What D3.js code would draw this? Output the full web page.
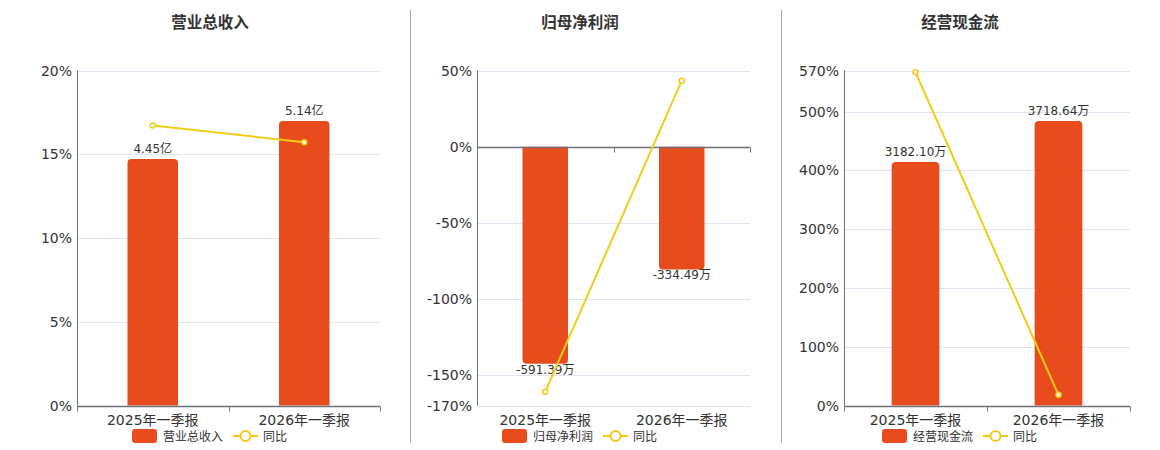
<!DOCTYPE html>
<html>
<head>
<meta charset="utf-8">
<script src="https://cdn.jsdelivr.net/npm/d3@7"></script>
<style>
  body { margin: 0; background: #fff; }
  svg { display: block; font-family: "DejaVu Sans", "Noto Sans CJK SC", sans-serif; }
</style>
</head>
<body>
<div class="content"></div>
<script>
var svgWidth = 1160;
var svgHeight = 450;

// Data.
var categories = ["2025年一季报", "2026年一季报"];

var revenueValues = [4.45, 5.14];        // 亿
var revenueYoY = [16.72, 15.72];         // %
var revenueTicks = [0, 5, 10, 15, 20];

var profitValues = [-591.39, -334.49];   // 万
var profitYoY = [-160.9, 43.3];          // %
var profitTicks = [50, 0, -50, -100, -150, -170];

var cashValues = [3182.10, 3718.64];     // 万
var cashYoY = [567, 18.2];               // %
var cashTicks = [0, 100, 200, 300, 400, 500, 570];

var barColor = "#e84c1c";
var lineColor = "#f2cc18";
var axisColor = "#6e7079";
var gridColor = "#e0e6f1";
var textColor = "#333";

// Plain hyphen for negative numbers, as in the reference.
var fmt = d3.formatLocale({ decimal: ".", thousands: ",", grouping: [3], currency: ["", ""], minus: "-" }).format(".2f");

// Layout of the three panels.
var panels = [
  { title: "营业总收入", center: 210, left: 77, right: 380, values: revenueValues, yoy: revenueYoY,
    ticks: revenueTicks, unit: "亿", barDomain: [0, 6.05] },
  { title: "归母净利润", center: 580, left: 477, right: 750, values: profitValues, yoy: profitYoY,
    ticks: profitTicks, unit: "万", barDomain: [-705, 207.4] },
  { title: "经营现金流", center: 960, left: 844, right: 1130, values: cashValues, yoy: cashYoY,
    ticks: cashTicks, unit: "万", barDomain: [0, 4380] }
];
var plotTop = 70.5;
var plotBottom = 405.5;

var svg = d3.select(".content")
  .append("svg")
  .attr("width", svgWidth)
  .attr("height", svgHeight);

// Dividers between the panels.
[410.5, 781.5].forEach(function(x) {
  svg.append("line")
    .attr("x1", x).attr("x2", x)
    .attr("y1", 10).attr("y2", 443)
    .attr("stroke", "#aaa")
    .attr("stroke-width", 1);
});

// Bar path with the two outer corners rounded.
function barPath(x, w, y0, y1, r) {
  var h = Math.abs(y1 - y0);
  r = Math.min(r, h);
  if (y1 < y0) {
    return "M" + x + "," + y0 + "V" + (y1 + r) + "Q" + x + "," + y1 + " " + (x + r) + "," + y1 +
      "H" + (x + w - r) + "Q" + (x + w) + "," + y1 + " " + (x + w) + "," + (y1 + r) + "V" + y0 + "Z";
  }
  return "M" + x + "," + y0 + "V" + (y1 - r) + "Q" + x + "," + y1 + " " + (x + r) + "," + y1 +
    "H" + (x + w - r) + "Q" + (x + w) + "," + y1 + " " + (x + w) + "," + (y1 - r) + "V" + y0 + "Z";
}

panels.forEach(function(p) {
  var g = svg.append("g");

  var x = d3.scaleBand().domain(categories).range([p.left, p.right]);
  var y = d3.scaleLinear().domain(d3.extent(p.ticks)).range([plotBottom, plotTop]);
  var yBar = d3.scaleLinear().domain(p.barDomain).range([plotBottom, plotTop]);
  var zeroY = y(0);

  // Title.
  g.append("text")
    .attr("x", p.center)
    .attr("y", 28)
    .attr("text-anchor", "middle")
    .attr("font-size", "15.5px")
    .attr("font-weight", "bold")
    .attr("fill", textColor)
    .text(p.title);

  // Grid lines.
  g.selectAll(".grid")
    .data(p.ticks.filter(function(t) { return t !== 0; }))
    .enter().append("line")
    .attr("x1", p.left).attr("x2", p.right)
    .attr("y1", function(d) { return Math.round(y(d)) + 0.5; })
    .attr("y2", function(d) { return Math.round(y(d)) + 0.5; })
    .attr("stroke", gridColor);

  // Y axis labels.
  g.selectAll(".ylab")
    .data(p.ticks)
    .enter().append("text")
    .attr("x", p.left - 5)
    .attr("y", function(d) { return y(d); })
    .attr("dy", "0.36em")
    .attr("text-anchor", "end")
    .attr("font-size", "14px")
    .attr("fill", textColor)
    .text(function(d) { return d + "%"; });

  // Bars.
  var bw = x.bandwidth() / 3;
  g.selectAll(".bar")
    .data(p.values)
    .enter().append("path")
    .attr("fill", barColor)
    .attr("d", function(d, i) {
      var cx = x(categories[i]) + x.bandwidth() / 2;
      return barPath(cx - bw / 2, bw, yBar(0), yBar(d), 4);
    });

  // Axis lines.
  g.append("line")
    .attr("x1", p.left + 0.5).attr("x2", p.left + 0.5)
    .attr("y1", plotTop).attr("y2", plotBottom)
    .attr("stroke", axisColor);
  var zy = Math.round(zeroY) + 0.5;
  g.append("line")
    .attr("x1", p.left).attr("x2", p.right)
    .attr("y1", zy).attr("y2", zy)
    .attr("stroke", axisColor)
    .attr("stroke-width", 1.5);
  var tickXs = categories.map(function(c) { return x(c); }).concat([p.right]);
  g.selectAll(".xtick")
    .data(tickXs)
    .enter().append("line")
    .attr("x1", function(d) { return Math.round(d) + 0.5; })
    .attr("x2", function(d) { return Math.round(d) + 0.5; })
    .attr("y1", zy).attr("y2", zy + 5)
    .attr("stroke", axisColor);

  // Category labels.
  g.selectAll(".xlab")
    .data(categories)
    .enter().append("text")
    .attr("x", function(d) { return x(d) + x.bandwidth() / 2; })
    .attr("y", 425)
    .attr("text-anchor", "middle")
    .attr("font-size", "14px")
    .attr("fill", textColor)
    .text(function(d) { return d; });

  // Bar value labels.
  g.selectAll(".vlab")
    .data(p.values)
    .enter().append("text")
    .attr("x", function(d, i) { return x(categories[i]) + x.bandwidth() / 2; })
    .attr("y", function(d) { return d >= 0 ? yBar(d) - 6 : yBar(d) + 10; })
    .attr("text-anchor", "middle")
    .attr("font-size", "12px")
    .attr("fill", textColor)
    .text(function(d) { return fmt(d) + p.unit; });

  // YoY line.
  var line = d3.line()
    .x(function(d, i) { return x(categories[i]) + x.bandwidth() / 2; })
    .y(function(d) { return y(d); });
  g.append("path")
    .datum(p.yoy)
    .attr("d", line)
    .attr("fill", "none")
    .attr("stroke", lineColor)
    .attr("stroke-width", 2);
  g.selectAll(".pt")
    .data(p.yoy)
    .enter().append("circle")
    .attr("cx", function(d, i) { return x(categories[i]) + x.bandwidth() / 2; })
    .attr("cy", function(d) { return y(d); })
    .attr("r", 2.5)
    .attr("fill", "#fff")
    .attr("stroke", lineColor)
    .attr("stroke-width", 1.5);

  // Legend.
  var c = p.center;
  g.append("rect")
    .attr("x", c - 78).attr("y", 429)
    .attr("width", 25).attr("height", 14)
    .attr("rx", 3)
    .attr("fill", barColor);
  g.append("text")
    .attr("x", c - 47).attr("y", 440.5)
    .attr("font-size", "12px")
    .attr("fill", textColor)
    .text(p.title);
  g.append("line")
    .attr("x1", c + 23).attr("x2", c + 48)
    .attr("y1", 436).attr("y2", 436)
    .attr("stroke", lineColor)
    .attr("stroke-width", 2);
  g.append("circle")
    .attr("cx", c + 35.5).attr("cy", 436)
    .attr("r", 5)
    .attr("fill", "#fff")
    .attr("stroke", lineColor)
    .attr("stroke-width", 2);
  g.append("text")
    .attr("x", c + 53).attr("y", 440.5)
    .attr("font-size", "12px")
    .attr("fill", textColor)
    .text("同比");
});
</script>
</body>
</html>
